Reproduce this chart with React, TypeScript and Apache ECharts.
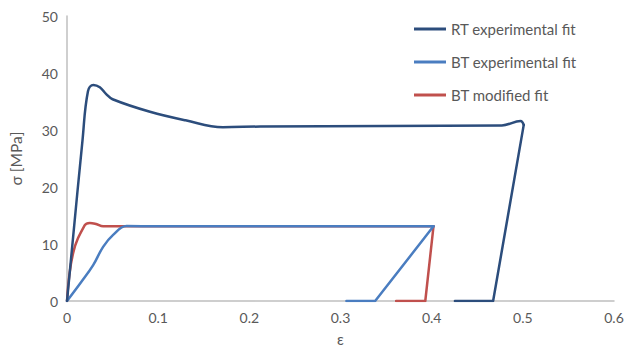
import React, { useEffect, useRef } from "react";
import * as echarts from "echarts";

// Loading branches (smoothed) and unloading branches (straight) of each fit
const rtLoadStrain = [0, 0.017, 0.023, 0.029, 0.036, 0.043, 0.05, 0.091, 0.13, 0.171, 0.212, 0.35, 0.477, 0.4975, 0.501];
const rtLoadStress = [0, 28.2, 36.8, 37.9, 37.5, 36.3, 35.4, 33.2, 31.7, 30.5, 30.6, 30.7, 30.8, 31.6, 30.9];
const rtUnloadStrain = [0.501, 0.4674, 0.4255];
const rtUnloadStress = [30.9, 0, 0];

const btExpLoadStrain = [0, 0.015, 0.0287, 0.0396, 0.0506, 0.0653, 0.1, 0.402];
const btExpLoadStress = [0, 3.2, 6.3, 9.5, 11.6, 13.15, 13.1, 13.1];
const btExpUnloadStrain = [0.402, 0.338, 0.3065];
const btExpUnloadStress = [13.1, 0, 0];

const btModLoadStrain = [0, 0.0067, 0.0195, 0.025, 0.032, 0.0396, 0.1, 0.402];
const btModLoadStress = [0, 8.4, 13.3, 13.7, 13.5, 13.1, 13.1, 13.1];
const btModUnloadStrain = [0.402, 0.393, 0.361];
const btModUnloadStress = [13.1, 0, 0];

const xTicks = [0, 0.1, 0.2, 0.3, 0.4, 0.5, 0.6];
const yTicks = [0, 10, 20, 30, 40, 50];

const seriesNames = ["RT experimental fit", "BT experimental fit", "BT modified fit"];
const seriesColors = ["#2C4D7C", "#4A7DC0", "#C0504D"];

const pairs = (xs: number[], ys: number[]) => xs.map((x, i) => [x, ys[i]]);

const FONT = "Lato";
const TEXT = "#595959";

export default function App() {
  const ref = useRef<HTMLDivElement>(null);

  useEffect(() => {
    if (!ref.current) return;
    const chart = echarts.init(ref.current, null, { renderer: "svg" });

    const branches = [
      [pairs(rtLoadStrain, rtLoadStress), pairs(rtUnloadStrain, rtUnloadStress)],
      [pairs(btExpLoadStrain, btExpLoadStress), pairs(btExpUnloadStrain, btExpUnloadStress)],
      [pairs(btModLoadStrain, btModLoadStress), pairs(btModUnloadStrain, btModUnloadStress)],
    ];

    const series: any[] = [];
    branches.forEach(([load, unload], i) => {
      const common = {
        type: "line",
        name: seriesNames[i],
        symbol: "none",
        color: seriesColors[i],
        lineStyle: { color: seriesColors[i], width: 2.5, cap: "round", join: "round" },
        z: 10 - i,
      };
      series.push({ ...common, data: load, smooth: 0.4 });
      series.push({ ...common, data: unload, smooth: false });
    });

    chart.setOption({
      animation: false,
      grid: { left: 67, right: 13, top: 16, bottom: 48, outerBoundsMode: "none", containLabel: false },
      legend: {
        data: seriesNames,
        orient: "vertical",
        left: 409,
        top: 16,
        icon: "rect",
        itemWidth: 32,
        itemHeight: 3,
        itemGap: 17,
        textStyle: { color: TEXT, fontFamily: FONT, fontSize: 15, lineHeight: 16 },
      },
      xAxis: {
        type: "value",
        min: 0,
        max: 0.6,
        interval: 0.1,
        name: "ε",
        nameLocation: "middle",
        nameGap: 30,
        nameTextStyle: { color: TEXT, fontFamily: FONT, fontSize: 15 },
        axisLine: { show: true, lineStyle: { color: "#BFBFBF", width: 1.5 } },
        axisTick: { show: false },
        splitLine: { show: false },
        axisLabel: {
          color: TEXT,
          fontFamily: FONT,
          fontSize: 14,
          margin: 9,
          formatter: (v: number) => {
            const t = xTicks.find((k) => Math.abs(k - v) < 1e-9);
            return t === undefined ? "" : String(t);
          },
        },
      },
      yAxis: {
        type: "value",
        min: 0,
        max: 50,
        interval: 10,
        name: "σ [MPa]",
        nameLocation: "middle",
        nameGap: 43,
        nameTextStyle: { color: TEXT, fontFamily: FONT, fontSize: 15.5 },
        axisLine: { show: true, lineStyle: { color: "#BFBFBF", width: 1.5 } },
        axisTick: { show: false },
        splitLine: { show: false },
        axisLabel: {
          color: TEXT,
          fontFamily: FONT,
          fontSize: 14,
          margin: 9,
          formatter: (v: number) => {
            const t = yTicks.find((k) => Math.abs(k - v) < 1e-9);
            return t === undefined ? "" : String(t);
          },
        },
      },
      series,
    });

    return () => chart.dispose();
  }, []);

  return (
    <div
      ref={ref}
      style={{ position: "absolute", left: 0, top: 0, width: 627, height: 349, background: "#fff" }}
    />
  );
}
